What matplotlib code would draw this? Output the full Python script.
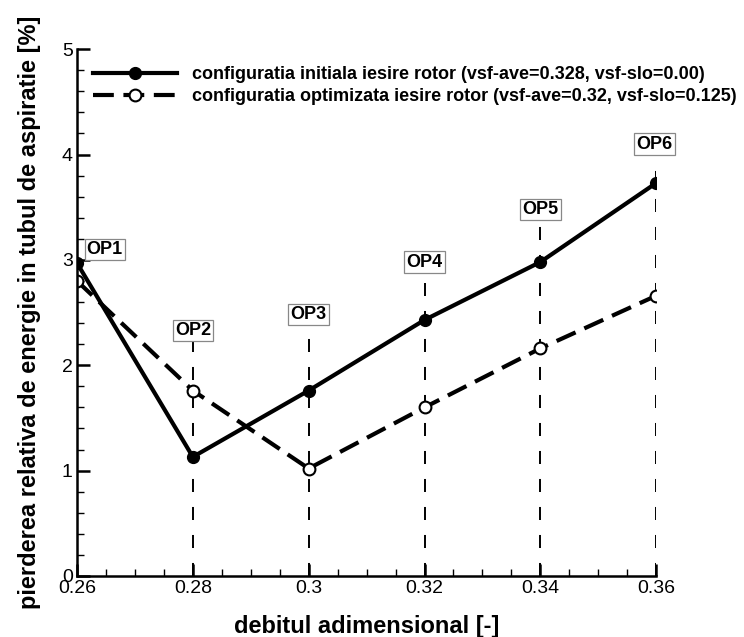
import matplotlib
matplotlib.use("Agg")
import matplotlib.pyplot as plt
from matplotlib.ticker import MultipleLocator

x = [0.26, 0.28, 0.30, 0.32, 0.34, 0.36]
initial = [2.97, 1.13, 1.76, 2.43, 2.98, 3.73]
optimized = [2.80, 1.76, 1.02, 1.60, 2.16, 2.66]
op_labels = ["OP1", "OP2", "OP3", "OP4", "OP5", "OP6"]
op_label_x = [0.2648, 0.28, 0.30, 0.32, 0.34, 0.3597]
op_label_y = [3.10, 2.33, 2.48, 2.98, 3.48, 4.10]
op_line_top = [0.0, 2.22, 2.36, 2.78, 3.33, 3.87]
xtick_labels = ["0.26", "0.28", "0.3", "0.32", "0.34", "0.36"]
label_initial = "configuratia initiala iesire rotor (vsf-ave=0.328, vsf-slo=0.00)"
label_optimized = "configuratia optimizata iesire rotor (vsf-ave=0.32, vsf-slo=0.125)"

font = "Liberation Sans"

fig = plt.figure(figsize=(7.44, 6.37), dpi=100)
ax = fig.add_axes([0.1035, 0.0958, 0.7785, 0.827])

for xi, top in zip(x, op_line_top):
    if top > 0:
        ax.plot([xi, xi], [0, top], color="black", lw=1.4, ls=(0, (6.7, 7.7)), zorder=1)

ax.plot(x, initial, color="black", lw=3.0, marker="o", ms=8.5,
        mfc="black", mec="black", label=label_initial, zorder=3)
ax.plot(x, optimized, color="black", lw=3.0, ls=(0, (5, 2.3)), marker="o", ms=8.5,
        mfc="white", mec="black", mew=1.5, label=label_optimized, zorder=3)

for lx, lab, ly in zip(op_label_x, op_labels, op_label_y):
    ax.text(lx, ly, lab, ha="center", va="center", family=font,
            fontsize=13, fontweight="bold",
            bbox=dict(boxstyle="square,pad=0.12", fc="white", ec="#888888", lw=0.9),
            zorder=4)

ax.set_xlim(0.26, 0.36)
ax.set_ylim(0, 5)
ax.set_xticks(x)
ax.set_xticklabels(xtick_labels)
ax.xaxis.set_minor_locator(MultipleLocator(0.005))
ax.yaxis.set_major_locator(MultipleLocator(1))
ax.yaxis.set_minor_locator(MultipleLocator(0.2))
ax.tick_params(which="major", direction="in", length=9, width=1.8, labelsize=14, pad=3)
ax.tick_params(which="minor", direction="in", length=5, width=1.0)
for lbl in ax.get_xticklabels() + ax.get_yticklabels():
    lbl.set_family(font)
ax.spines["top"].set_visible(False)
ax.spines["right"].set_visible(False)
ax.spines["left"].set_linewidth(1.8)
ax.spines["bottom"].set_linewidth(1.8)
ax.spines["left"].set_zorder(5)
ax.spines["bottom"].set_zorder(5)

ax.set_xlabel("debitul adimensional [-]", family=font, fontsize=17,
              fontweight="bold", labelpad=13)
ax.set_ylabel("pierderea relativa de energie in tubul de aspiratie [%]",
              family=font, fontsize=17, fontweight="bold", labelpad=15)

leg = ax.legend(loc="upper left", bbox_to_anchor=(0.0276, 0.968), frameon=False,
                prop=dict(family=font, size=13, weight="bold"),
                handlelength=4.65, handletextpad=0.83, labelspacing=0.3,
                borderaxespad=0.0, borderpad=0.0)

fig.savefig("out.png", dpi=100)
